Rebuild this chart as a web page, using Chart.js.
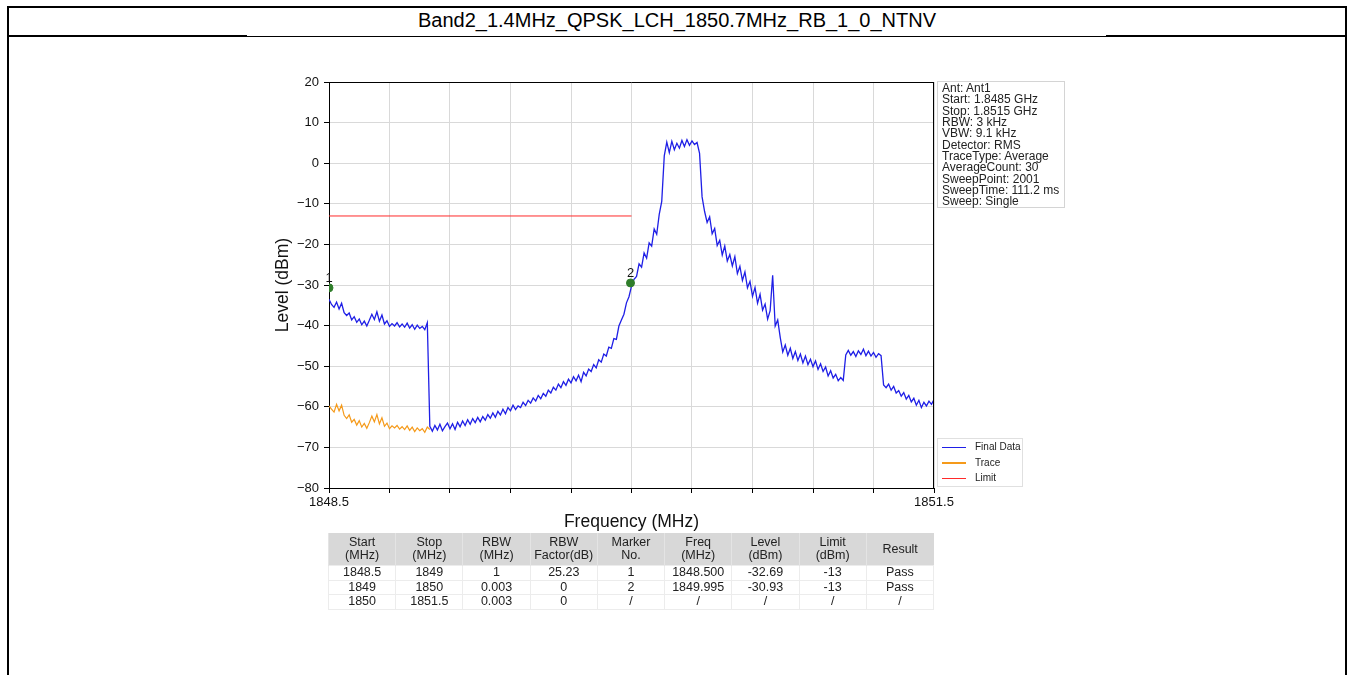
<!DOCTYPE html>
<html>
<head>
<meta charset="utf-8">
<script src="https://cdn.jsdelivr.net/npm/chart.js@4/dist/chart.umd.min.js"></script>
<style>
html,body{margin:0;padding:0;background:#fff;width:1348px;height:675px;overflow:hidden;font-family:"Liberation Sans",Arial,sans-serif;}
#c{position:absolute;left:0;top:0;}
.ln{position:absolute;background:#000;}
#title{position:absolute;left:9px;top:7px;width:1336px;height:27px;line-height:27px;text-align:center;font-size:20px;color:#000;}
#info{position:absolute;left:937px;top:81px;width:128px;height:127px;border:1px solid #d4d4d4;box-sizing:border-box;font-size:12px;line-height:11.33px;color:#222;padding:1px 0 0 4px;white-space:nowrap;}
#legend{position:absolute;left:937px;top:438px;width:86px;height:49px;border:1px solid #e0e0e0;box-sizing:border-box;font-size:10px;color:#222;}
#legend .it{position:absolute;left:4px;height:12px;line-height:12px;white-space:nowrap;}
#legend .sw{display:inline-block;width:24px;height:1.5px;vertical-align:middle;margin-right:9px;}
#tbl{position:absolute;left:328px;top:533px;width:606px;border-collapse:collapse;table-layout:fixed;font-size:12.5px;color:#222;}
#tbl th{background:#d8d8d8;font-weight:normal;height:32px;line-height:13px;padding:0;text-align:center;border-left:1px solid #e4e4e4;}
#tbl td{height:13.5px;line-height:13px;padding:0;text-align:center;border:1px solid #ececec;}
</style>
</head>
<body>
<div class="ln" style="left:7px;top:6px;width:1340px;height:2px;"></div>
<div class="ln" style="left:7px;top:6px;width:2px;height:669px;"></div>
<div class="ln" style="left:1345px;top:6px;width:2px;height:669px;"></div>
<div class="ln" style="left:7px;top:35px;width:240px;height:2px;"></div>
<div class="ln" style="left:247px;top:36px;width:859px;height:1px;"></div>
<div class="ln" style="left:1106px;top:35px;width:241px;height:2px;"></div>
<div id="title"></div>
<canvas id="c" width="1348" height="675"></canvas>
<div id="info"></div>
<div id="legend"></div>
<table id="tbl"><thead><tr id="thr"></tr></thead><tbody id="tb"></tbody></table>
<script>
// ---------- data ----------
const chartTitle = 'Band2_1.4MHz_QPSK_LCH_1850.7MHz_RB_1_0_NTNV';
const sweepStart = 1848.5;   // MHz
const sweepStep = 0.0125;    // MHz between plotted points

const finalLevels = [
  -33.5,-34.8,-35.5,-34.2,-35.9,-34.5,-36.8,-37.5,-36.9,-38.6,
  -37.8,-39.2,-38.4,-39.8,-38.9,-40.1,-38.7,-37.2,-38.5,-36.6,
  -38.9,-37.4,-39.6,-38.8,-40.2,-39.5,-40.1,-39.3,-40.3,-39.6,
  -40.4,-39.4,-40.6,-39.8,-40.9,-39.9,-40.7,-40.2,-41.0,-39.3,
  -64.8,-66.0,-64.6,-65.7,-64.3,-65.9,-64.9,-64.0,-65.4,-64.2,
  -65.6,-63.8,-64.9,-63.5,-64.6,-63.2,-64.3,-62.9,-63.9,-62.6,
  -63.7,-62.4,-63.3,-61.9,-62.8,-61.5,-62.6,-61.1,-62.0,-60.6,
  -61.7,-60.2,-61.0,-59.6,-60.7,-59.8,-60.2,-58.9,-59.7,-58.4,
  -59.1,-57.8,-58.6,-57.2,-58.0,-56.7,-57.4,-55.9,-56.6,-55.2,
  -55.9,-54.4,-55.3,-53.8,-54.7,-53.2,-54.1,-52.6,-53.6,-52.2,
  -53.8,-51.5,-52.4,-50.7,-51.3,-49.6,-50.4,-48.4,-49.0,-47.0,
  -47.5,-45.3,-45.6,-43.2,-43.4,-40.1,-38.6,-37.2,-34.4,-32.9,
  -30.3,-28.6,-27.9,-24.8,-25.6,-22.1,-23.4,-19.6,-20.4,-16.2,
  -17.5,-12.6,-9.4,1.8,5.2,2.6,5.4,3.3,4.9,3.7,
  5.6,4.1,5.8,4.4,5.5,4.6,5.1,2.4,-8.3,-11.9,
  -14.6,-13.2,-17.4,-16.1,-20.3,-19.0,-22.6,-20.4,-24.1,-22.5,
  -25.3,-23.0,-27.2,-25.4,-28.9,-26.8,-30.7,-29.1,-32.8,-30.6,
  -34.5,-32.3,-36.2,-34.7,-38.4,-36.3,-27.6,-40.1,-38.6,-42.9,
  -46.5,-44.8,-47.3,-45.6,-48.1,-46.4,-48.6,-47.0,-49.2,-47.5,
  -49.6,-48.3,-50.1,-48.7,-50.8,-49.4,-51.3,-50.2,-52.4,-51.1,
  -52.9,-52.0,-53.6,-52.8,-53.5,-47.2,-46.1,-47.3,-46.4,-47.6,
  -46.2,-47.1,-45.8,-47.4,-46.3,-47.5,-46.6,-47.8,-46.9,-47.4,
  -54.6,-55.3,-54.4,-55.9,-55.0,-56.6,-56.0,-57.4,-56.5,-58.1,
  -57.2,-58.8,-57.9,-59.6,-58.4,-60.2,-58.9,-59.8,-58.6,-59.4,
  -58.2
];
const traceLevels = [
  -59.8,-60.6,-61.3,-59.4,-61.0,-59.6,-62.1,-62.9,-62.0,-63.8,
  -63.1,-64.5,-63.4,-65.0,-64.1,-65.3,-63.9,-62.3,-63.7,-61.9,
  -64.2,-62.7,-64.8,-64.0,-65.4,-64.7,-65.2,-64.6,-65.5,-64.9,
  -65.6,-64.7,-65.8,-65.0,-66.1,-65.2,-65.9,-65.4,-66.3,-65.0,
  -65.6
];
const limitFreqs = [1848.5, 1850.0];
const limitLevels = [-13, -13];
const markerFreqs = [1848.5, 1849.995];
const markerLevels = [-30.7, -29.5];
const markerLabels = ['1', '2'];

const xTickValues = [1848.5,1848.8,1849.1,1849.4,1849.7,1850.0,1850.3,1850.6,1850.9,1851.2,1851.5];
const xTickLabels = ['1848.5','','','','','','','','','','1851.5'];
const yTickValues = [-80,-70,-60,-50,-40,-30,-20,-10,0,10,20];
const yTickLabels = ['\u221280','\u221270','\u221260','\u221250','\u221240','\u221230','\u221220','\u221210','0','10','20'];

const seriesNames = ['Final Data','Trace','Limit'];
const infoLines = ['Ant: Ant1','Start: 1.8485 GHz','Stop: 1.8515 GHz','RBW: 3 kHz','VBW: 9.1 kHz','Detector: RMS',
  'TraceType: Average','AverageCount: 30','SweepPoint: 2001','SweepTime: 111.2 ms','Sweep: Single'];
const tableHeaders = [['Start','(MHz)'],['Stop','(MHz)'],['RBW','(MHz)'],['RBW','Factor(dB)'],['Marker','No.'],
  ['Freq','(MHz)'],['Level','(dBm)'],['Limit','(dBm)'],['Result']];
const tableRows = [
  ['1848.5','1849','1','25.23','1','1848.500','-32.69','-13','Pass'],
  ['1849','1850','0.003','0','2','1849.995','-30.93','-13','Pass'],
  ['1850','1851.5','0.003','0','/','/','/','/','/']
];

// ---------- styles ----------
const COLORS = {final:'#1f1fe6', trace:'#f59a1a', limit:'#ff2a2a', marker:'#2f7d2a'};

// ---------- html parts ----------
document.getElementById('title').textContent = chartTitle;
document.getElementById('info').innerHTML = infoLines.map(s => '<div>' + s + '</div>').join('');
const lg = document.getElementById('legend');
[COLORS.final, COLORS.trace, COLORS.limit].forEach((col, i) => {
  const d = document.createElement('div');
  d.className = 'it';
  d.style.top = (2 + i * 15.5) + 'px';
  d.innerHTML = '<span class="sw" style="background:' + col + '"></span>' + seriesNames[i];
  lg.appendChild(d);
});
document.getElementById('thr').innerHTML = tableHeaders.map(h => '<th>' + h.join('<br>') + '</th>').join('');
document.getElementById('tb').innerHTML = tableRows.map(r => '<tr>' + r.map(v => '<td>' + v + '</td>').join('') + '</tr>').join('');

// ---------- chart ----------
const finalPts = finalLevels.map((v, i) => ({x: +(sweepStart + i * sweepStep).toFixed(4), y: v}));
const tracePts = traceLevels.map((v, i) => ({x: +(sweepStart + i * sweepStep).toFixed(4), y: v}));
const limitPts = limitFreqs.map((f, i) => ({x: f, y: limitLevels[i]}));
const markerPts = markerFreqs.map((f, i) => ({x: f, y: markerLevels[i]}));

const framePlugin = {
  id: 'frame',
  afterDatasetsDraw(chart) {
    const {ctx, chartArea: a} = chart;
    ctx.save();
    ctx.strokeStyle = '#000';
    ctx.lineWidth = 1;
    ctx.beginPath();
    ctx.moveTo(a.left, Math.round(a.top) + 0.5);
    ctx.lineTo(a.right, Math.round(a.top) + 0.5);
    ctx.moveTo(Math.round(a.right) - 0.5, a.top);
    ctx.lineTo(Math.round(a.right) - 0.5, a.bottom);
    ctx.stroke();
    // marker labels
    const meta = chart.getDatasetMeta(3);
    ctx.fillStyle = '#111';
    ctx.font = '13px "Liberation Sans", Arial, sans-serif';
    ctx.textAlign = 'center';
    ctx.textBaseline = 'alphabetic';
    meta.data.forEach((el, i) => {
      ctx.fillText(markerLabels[i], el.x, el.y - 6);
    });
    ctx.restore();
  }
};

const tickFont = {family: '"Liberation Sans", Arial, sans-serif', size: 13};
const titleFont = {family: '"Liberation Sans", Arial, sans-serif', size: 17.5};

new Chart(document.getElementById('c'), {
  type: 'line',
  data: {
    datasets: [
      {label: seriesNames[2], data: limitPts, borderColor: COLORS.limit, borderWidth: 1, pointRadius: 0, order: 4},
      {label: seriesNames[1], data: tracePts, borderColor: COLORS.trace, borderWidth: 1.2, pointRadius: 0, order: 3},
      {label: seriesNames[0], data: finalPts, borderColor: COLORS.final, borderWidth: 1.3, pointRadius: 0, order: 2},
      {label: 'Markers', data: markerPts, showLine: false, pointRadius: 4, pointBackgroundColor: COLORS.marker,
       pointBorderColor: COLORS.marker, borderColor: COLORS.marker, order: 1}
    ]
  },
  options: {
    responsive: false,
    animation: false,
    devicePixelRatio: 1,
    layout: {padding: {left: 259, right: 414, top: 82, bottom: 139}},
    plugins: {legend: {display: false}, tooltip: {enabled: false}},
    elements: {line: {tension: 0}},
    scales: {
      x: {
        type: 'linear', min: 1848.5, max: 1851.5,
        afterFit: s => { s.height = 48; },
        afterBuildTicks: s => { s.ticks = xTickValues.map(v => ({value: v})); },
        ticks: {autoSkip: false, maxRotation: 0, color: '#111', font: tickFont, padding: 2,
                callback: (v, i) => xTickLabels[i]},
        grid: {color: '#d9d9d9', tickColor: '#000', tickLength: 5, drawTicks: true},
        border: {display: true, color: '#000', width: 1},
        title: {display: true, text: 'Frequency (MHz)', color: '#111', font: titleFont, padding: {top: 0, bottom: 3}}
      },
      y: {
        min: -80, max: 20,
        afterFit: s => { s.width = 70; },
        afterBuildTicks: s => { s.ticks = yTickValues.map(v => ({value: v})); },
        ticks: {autoSkip: false, color: '#111', font: tickFont, padding: 5,
                callback: (v, i) => yTickLabels[i]},
        grid: {color: '#d9d9d9', tickColor: '#000', tickLength: 5, drawTicks: true},
        border: {display: true, color: '#000', width: 1},
        title: {display: true, text: 'Level (dBm)', color: '#111', font: titleFont, padding: {top: 14, bottom: 0}}
      }
    }
  },
  plugins: [framePlugin]
});
</script>
</body>
</html>
